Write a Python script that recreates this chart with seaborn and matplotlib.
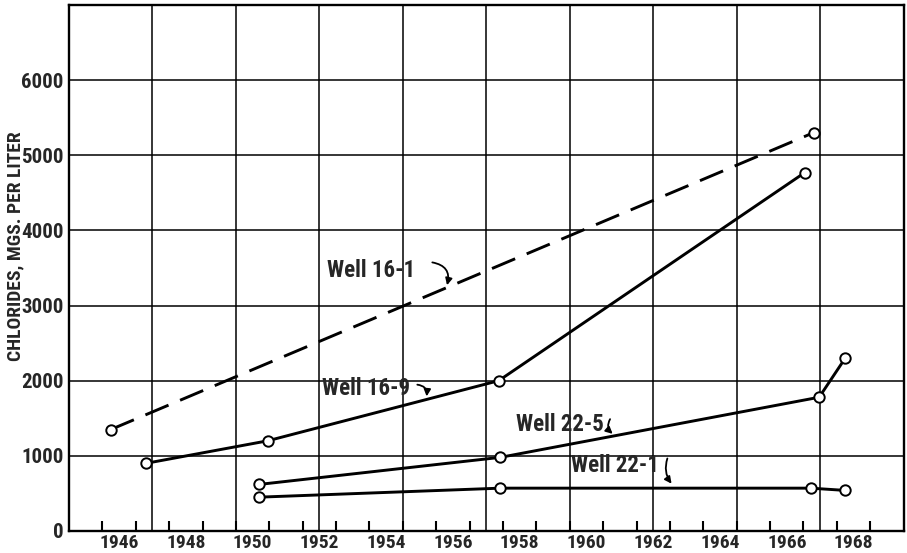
import numpy as np
import pandas as pd
import matplotlib
matplotlib.use("Agg")
import matplotlib.pyplot as plt
import seaborn as sns
from matplotlib.ticker import FixedLocator, NullFormatter

# ---- data ----
wells = ["Well 16-1", "Well 16-9", "Well 22-5", "Well 22-1"]
w16_1_years = [1945.75, 1966.8]
w16_1_cl = [1350, 5300]
w16_9_years = [1946.8, 1950.45, 1957.37, 1966.54]
w16_9_cl = [900, 1200, 2000, 4770]
w22_5_years = [1950.2, 1957.42, 1966.97, 1967.75]
w22_5_cl = [620, 980, 1780, 2300]
w22_1_years = [1950.18, 1957.42, 1966.72, 1967.75]
w22_1_cl = [450, 570, 570, 540]

x_labels = [1946, 1948, 1950, 1952, 1954, 1956, 1958, 1960, 1962, 1964, 1966, 1968]
y_ticks = [0, 1000, 2000, 3000, 4000, 5000, 6000]
ylabel = "CHLORIDES, MGS. PER LITER"

# label positions (text anchor, arrow start, arrow tip) in data units
ann_text = [(1953.55, 3470), (1953.4, 1900), (1959.2, 1420), (1960.85, 865)]
ann_start = [(1955.3, 3580), (1954.85, 1950), (1960.75, 1520), (1962.45, 1000)]
ann_tip = [(1955.8, 3235), (1955.2, 1755), (1960.85, 1270), (1962.6, 600)]
ann_rad = [-0.6, -0.6, 0.5, 0.3]

df = pd.concat([
    pd.DataFrame({"year": w16_1_years, "cl": w16_1_cl, "well": wells[0]}),
    pd.DataFrame({"year": w16_9_years, "cl": w16_9_cl, "well": wells[1]}),
    pd.DataFrame({"year": w22_5_years, "cl": w22_5_cl, "well": wells[2]}),
    pd.DataFrame({"year": w22_1_years, "cl": w22_1_cl, "well": wells[3]}),
], ignore_index=True)

sns.set_style("white")
FONT = ["Roboto Condensed", "DejaVu Sans"]
plt.rcParams["font.family"] = FONT
plt.rcParams["font.weight"] = "semibold"
plt.rcParams["axes.labelweight"] = "semibold"

fig = plt.figure(figsize=(9.07, 5.53), dpi=100)
ax = fig.add_axes([0.0761, 0.0398, 0.9202, 0.9512])

# grid
for gx in np.arange(1947, 1968, 2.5):
    ax.axvline(gx, color="black", lw=1.1, zorder=1)
for gy in y_ticks[1:]:
    ax.axhline(gy, color="black", lw=1.1, zorder=1)

sns.lineplot(
    data=df, x="year", y="cl", hue="well", style="well",
    palette={w: "black" for w in wells},
    dashes={wells[0]: (8.6, 4.3), wells[1]: "", wells[2]: "", wells[3]: ""},
    markers={w: "o" for w in wells},
    estimator=None, sort=False, legend=False, ax=ax,
    lw=2.1, markersize=7.5, markerfacecolor="white",
    markeredgecolor="black", markeredgewidth=1.4, zorder=3,
)

ax.set_xlim(1944.5, 1969.5)
ax.set_ylim(0, 7000)

ax.set_xticks(x_labels)
ax.set_xticklabels([str(v) for v in x_labels])
ax.xaxis.set_minor_locator(FixedLocator(np.arange(1945.5, 1969, 1.0)))
ax.xaxis.set_minor_formatter(NullFormatter())
ax.tick_params(axis="x", which="major", length=0, pad=2, labelsize=14)
ax.tick_params(axis="x", which="minor", direction="in", length=7.5, width=1.5,
               color="black", bottom=True)
ax.set_yticks(y_ticks)
ax.set_yticklabels([str(v) for v in y_ticks])
ax.tick_params(axis="y", length=0, pad=4, labelsize=15)

for sp in ax.spines.values():
    sp.set_color("black")
    sp.set_linewidth(1.7)

ax.set_xlabel("")
ax.set_ylabel(ylabel, fontsize=14)
ax.yaxis.set_label_coords(-0.053, 0.542)

for w, t, s, tip, r in zip(wells, ann_text, ann_start, ann_tip, ann_rad):
    ax.text(t[0], t[1], w, fontsize=16.5, ha="center", va="center", zorder=4)
    ax.annotate("", xy=tip, xytext=s,
                arrowprops=dict(arrowstyle="-|>", color="black", lw=1.3,
                                mutation_scale=10,
                                connectionstyle=f"arc3,rad={r}"),
                zorder=4)

fig.savefig("out.png", dpi=100)
